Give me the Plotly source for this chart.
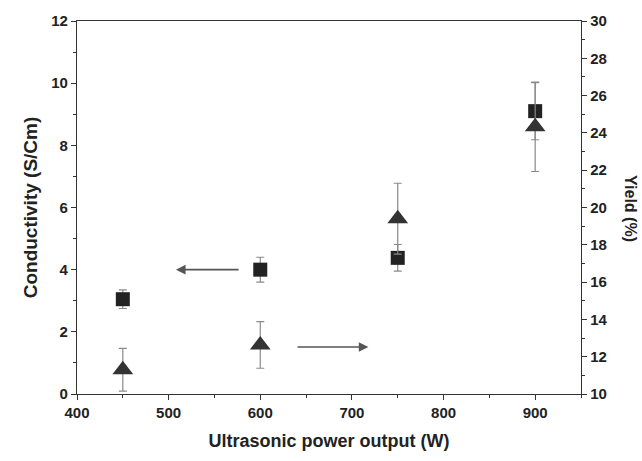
import plotly.graph_objects as go

power = [450, 600, 750, 900]
conductivity = [3.05, 4.0, 4.38, 9.1]
conductivity_err = [0.3, 0.4, 0.43, 0.92]
yield_pct = [11.3, 12.63, 19.4, 24.33]
yield_err = [1.15, 1.25, 1.9, 2.4]

FONT = "Liberation Sans, Arial, sans-serif"

fig = go.Figure()
fig.add_trace(go.Scatter(
    x=power, y=conductivity, mode="markers", yaxis="y",
    marker=dict(symbol="square", size=14, color="#222222"),
    error_y=dict(type="data", array=conductivity_err, color="#8a8a8a", thickness=1.2, width=4),
    showlegend=False))
fig.add_trace(go.Scatter(
    x=power, y=yield_pct, mode="markers", yaxis="y2",
    marker=dict(symbol="triangle-up", size=18, color="#333333",
                line=dict(width=0)),
    error_y=dict(type="data", array=yield_err, color="#8a8a8a", thickness=1.2, width=4),
    showlegend=False))

# arrows
fig.add_annotation(x=508, y=4.0, ax=578, ay=4.0, xref="x", yref="y", axref="x", ayref="y",
                   showarrow=True, arrowhead=2, arrowsize=1.2, arrowwidth=1.6, arrowcolor="#555555", text="")
fig.add_annotation(x=718, y=1.51, ax=639, ay=1.51, xref="x", yref="y", axref="x", ayref="y",
                   showarrow=True, arrowhead=2, arrowsize=1.2, arrowwidth=1.6, arrowcolor="#555555", text="")

axis_common = dict(showline=True, linecolor="#333333", linewidth=1.3, ticks="outside",
                   ticklen=5, tickwidth=1.3, tickcolor="#333333", showgrid=False, zeroline=False,
                   tickfont=dict(family=FONT, size=15, color="#222222", weight="bold"))

fig.update_layout(
    width=642, height=461,
    margin=dict(l=77, r=61, t=19, b=67),
    paper_bgcolor="white", plot_bgcolor="white",
    xaxis=dict(range=[400, 950], dtick=100, tick0=400, mirror=True,
               minor=dict(dtick=50, ticks="outside", ticklen=3, tickcolor="#333333"),
               title=dict(text="Ultrasonic power output (W)", standoff=14,
                          font=dict(family=FONT, size=18, color="#222222", weight="bold")),
               **axis_common),
    yaxis=dict(range=[0, 12], dtick=2,
               minor=dict(dtick=1, ticks="outside", ticklen=3, tickcolor="#333333"),
               title=dict(text="Conductivity (S/Cm)", standoff=8,
                          font=dict(family=FONT, size=19, color="#222222", weight="bold")),
               **axis_common),
    yaxis2=dict(range=[10, 30], dtick=2, overlaying="y", side="right",
                minor=dict(dtick=1, ticks="outside", ticklen=3, tickcolor="#333333"),
                **axis_common),
)

fig.add_annotation(x=(630 - 77) / (642 - 77 - 61), y=(461 - 67 - 207) / (461 - 19 - 67),
                   xref="paper", yref="paper", text="Yield (%)", showarrow=False,
                   xanchor="center", yanchor="middle",
                   textangle=90, font=dict(family=FONT, size=16, color="#222222", weight="bold"))

fig.write_html("out.html")
